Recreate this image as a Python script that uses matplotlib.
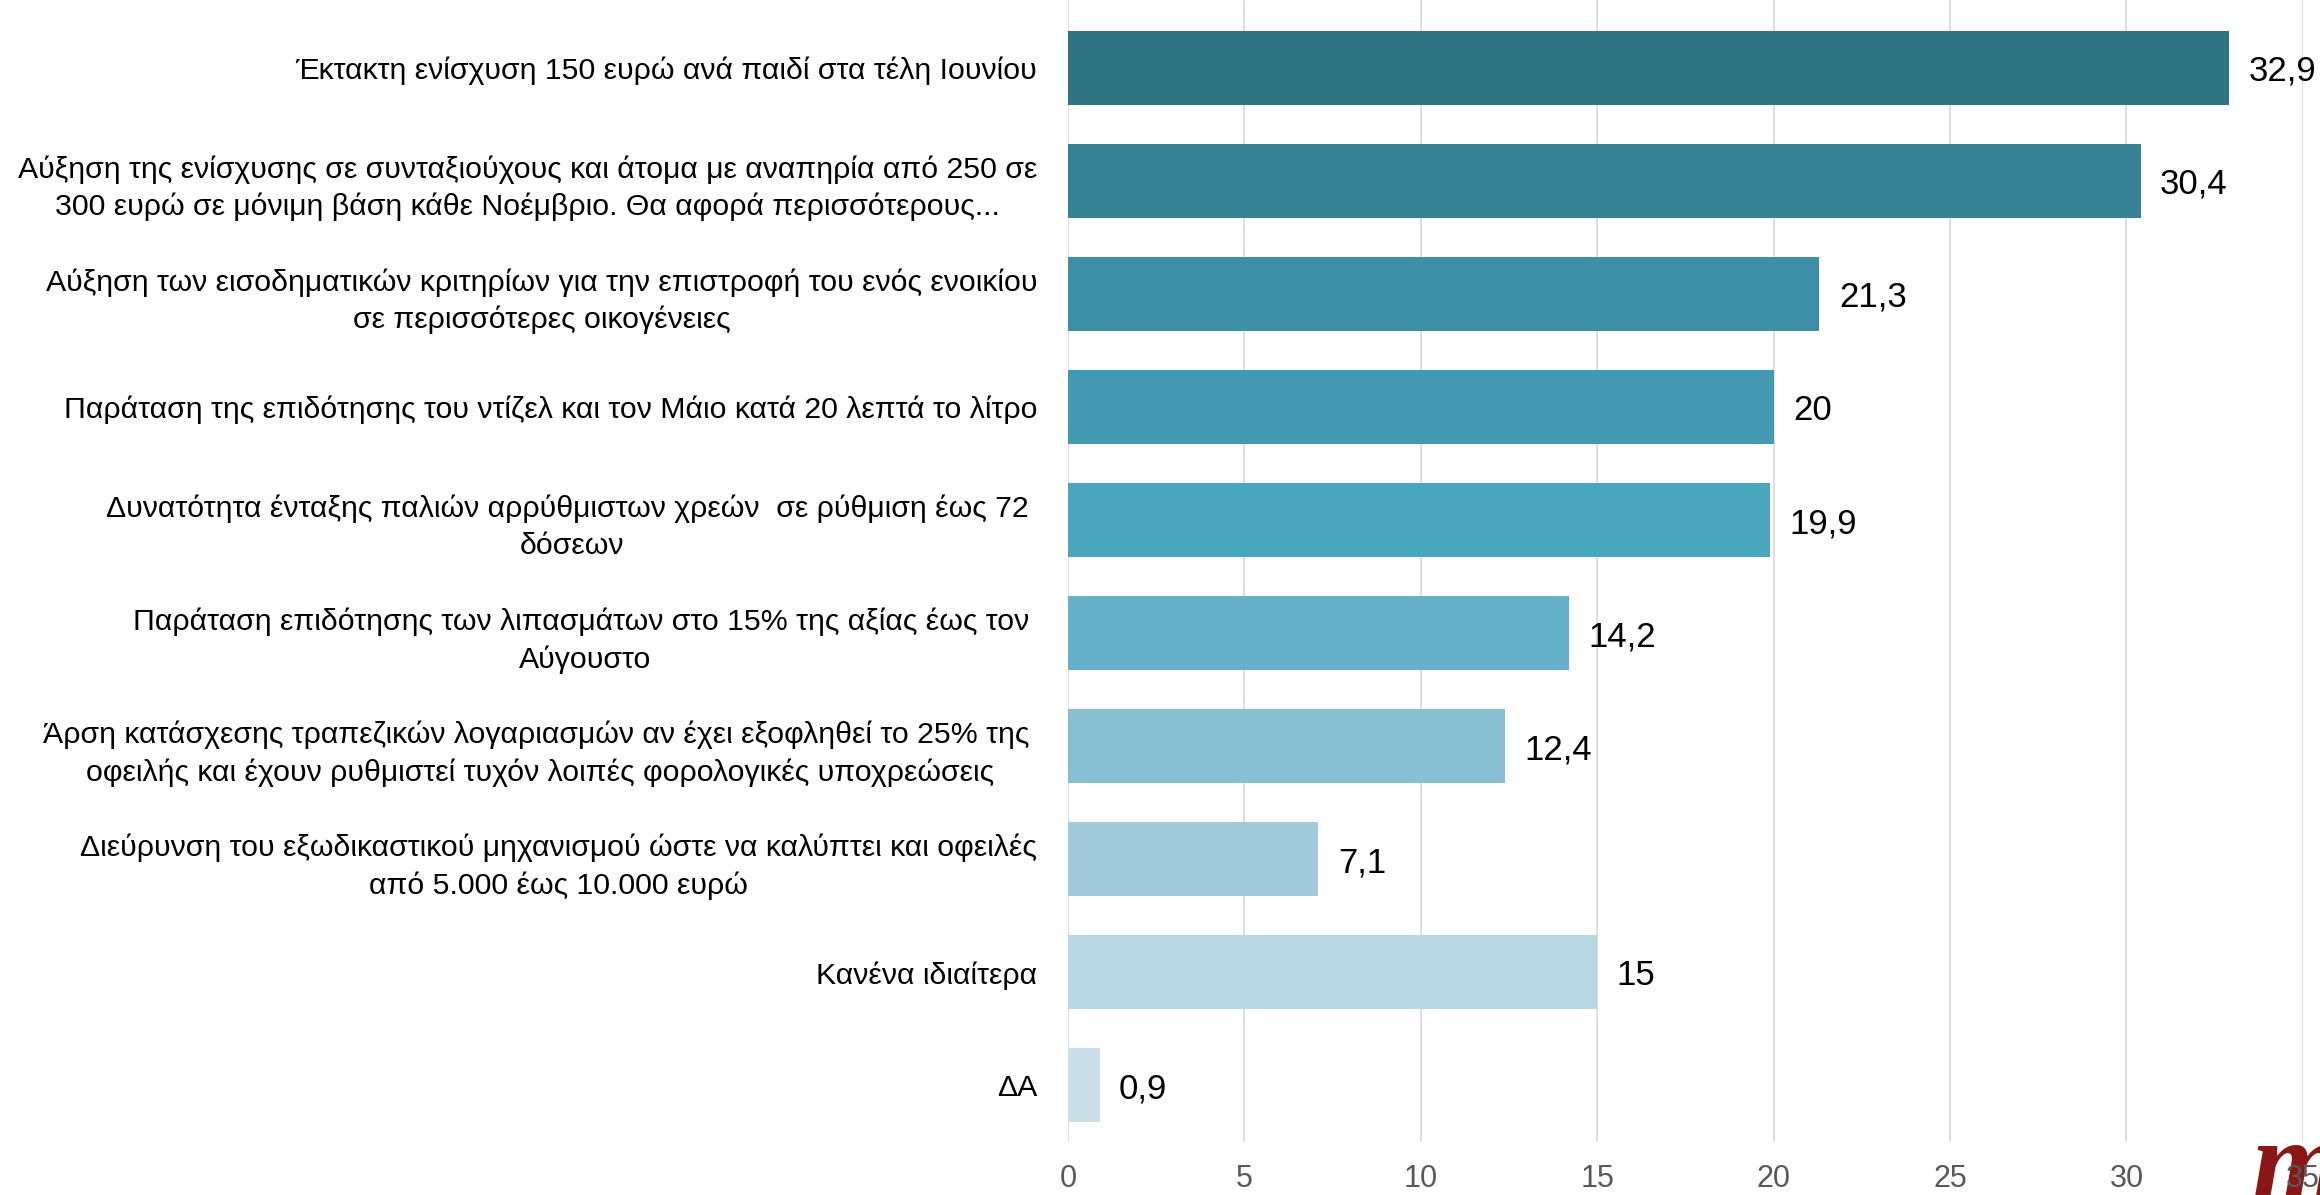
import matplotlib
matplotlib.use('Agg')
import matplotlib.pyplot as plt

# data
labels = [
    'Έκτακτη ενίσχυση 150 ευρώ ανά παιδί στα τέλη Ιουνίου',
    'Αύξηση της ενίσχυσης σε συνταξιούχους και άτομα με αναπηρία από 250 σε\n'
    '300 ευρώ σε μόνιμη βάση κάθε Νοέμβριο. Θα αφορά περισσότερους...',
    'Αύξηση των εισοδηματικών κριτηρίων για την επιστροφή του ενός ενοικίου\n'
    'σε περισσότερες οικογένειες',
    'Παράταση της επιδότησης του ντίζελ και τον Μάιο κατά 20 λεπτά το λίτρο',
    'Δυνατότητα ένταξης παλιών αρρύθμιστων χρεών  σε ρύθμιση έως 72 \nδόσεων',
    'Παράταση επιδότησης των λιπασμάτων στο 15% της αξίας έως τον \nΑύγουστο',
    'Άρση κατάσχεσης τραπεζικών λογαριασμών αν έχει εξοφληθεί το 25% της \n'
    'οφειλής και έχουν ρυθμιστεί τυχόν λοιπές φορολογικές υποχρεώσεις',
    'Διεύρυνση του εξωδικαστικού μηχανισμού ώστε να καλύπτει και οφειλές\n'
    'από 5.000 έως 10.000 ευρώ',
    'Κανένα ιδιαίτερα',
    'ΔΑ',
]
values = [32.9, 30.4, 21.3, 20, 19.9, 14.2, 12.4, 7.1, 15, 0.9]
colors = ['#307384', '#378396', '#3D8FA5', '#4399B1', '#4AA5BF',
          '#65B1C9', '#88BFD2', '#A1CADB', '#B7D7E2', '#CADFE8']
xticks = [0, 5, 10, 15, 20, 25, 30, 35]

plt.rcParams['font.family'] = ['Liberation Sans', 'DejaVu Sans']

fig = plt.figure(figsize=(23.2, 11.95), dpi=100)
ax = fig.add_axes([0.4603, 0.0444, 0.5323, 0.9556])
ax.patch.set_alpha(0)

pos = list(range(len(values)))
bars = ax.barh(pos, values, height=0.655, color=colors, zorder=2)
vl = ax.bar_label(bars, labels=[('%g' % v).replace('.', ',') for v in values],
                  padding=14, fontsize=25, color='black')
for t in vl:
    t.set_va('center_baseline')

ax.set_xlim(0, 35)
ax.set_ylim(9.5, -0.6)
ax.set_xticks(xticks)
ax.set_yticks(pos)
ax.set_yticklabels(labels, fontsize=21.8, multialignment='center',
                   color='black', linespacing=1.4)
ax.tick_params(axis='y', length=0, pad=22)
ax.tick_params(axis='x', length=0, pad=16, labelsize=22, labelcolor='#595959')
ax.grid(axis='x', color='#D9D9D9', linewidth=1.2, zorder=0)
for s in ax.spines.values():
    s.set_visible(False)

# logo in the corner, under the tick labels
fig.text(0.9705, -0.005, 'm', fontsize=85, family='Liberation Serif',
         weight='bold', style='italic', color='#8B1616', zorder=-1,
         ha='left', va='baseline')

fig.savefig('out.png', dpi=100)
